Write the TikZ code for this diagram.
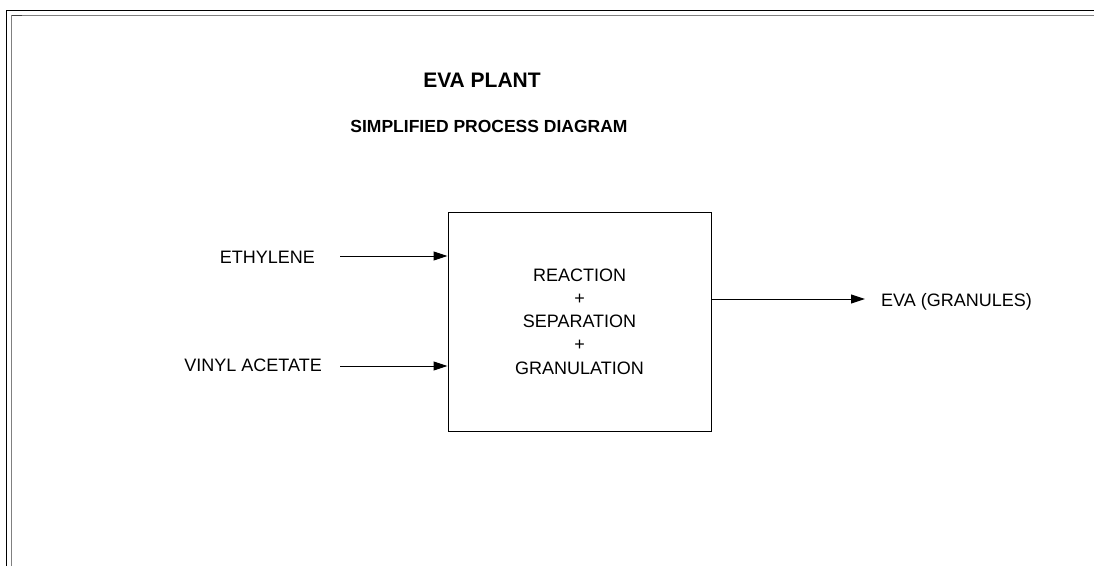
\documentclass[tikz,border=0pt]{standalone}
\usepackage{fontspec}
\setmainfont{Liberation Sans}
\usetikzlibrary{arrows.meta}
\begin{document}
\begin{tikzpicture}[x=1pt,y=-1pt,
  label/.style={inner sep=0pt,font=\fontsize{18}{23.25}\selectfont},
  flow/.style={line width=1pt,-{Triangle[length=14pt,width=9pt]}},
  procbox/.style={draw,line width=1pt,minimum width=263pt,minimum height=219pt,
    inner sep=0pt,align=center,font=\fontsize{18}{23.25}\selectfont}]
\useasboundingbox (0,0) rectangle (1094,566);
% sheet frame
\draw[line width=1.2pt] (6.5,566) -- (6.5,10.5) -- (1094,10.5);
\draw[line width=1.6pt,gray] (11.5,566) -- (11.5,15.5) -- (1094,15.5);
\draw[line width=1.6pt,black!75] (11.5,15.5) -- (22,15.5);
% titles
\node[inner sep=0pt,anchor=base,font=\fontsize{21}{25}\selectfont\bfseries] (title) at (482,87) {EVA PLANT};
\node[inner sep=0pt,anchor=base,font=\fontsize{17.5}{21}\selectfont\bfseries] (subtitle) at (489,132) {SIMPLIFIED PROCESS DIAGRAM};
% process block
\node[procbox] (proc) at (579.5,321.5) {REACTION\\+\\SEPARATION\\+\\GRANULATION};
% feeds
\node[label,anchor=base east] (eth) at (315,263) {ETHYLENE};
\node[label,anchor=base east] (vam) at (322,371) {VINYL ACETATE};
\coordinate (ethin) at (340,256);
\coordinate (vamin) at (340,366);
\draw[flow] (ethin) -- (proc.west |- ethin);
\draw[flow] (vamin) -- (proc.west |- vamin);
% product
\node[label,anchor=base west] (prod) at (881,306) {EVA (GRANULES)};
\coordinate (prodout) at (865,299);
\draw[flow] (proc.east |- prodout) -- (prodout);
\end{tikzpicture}
\end{document}
